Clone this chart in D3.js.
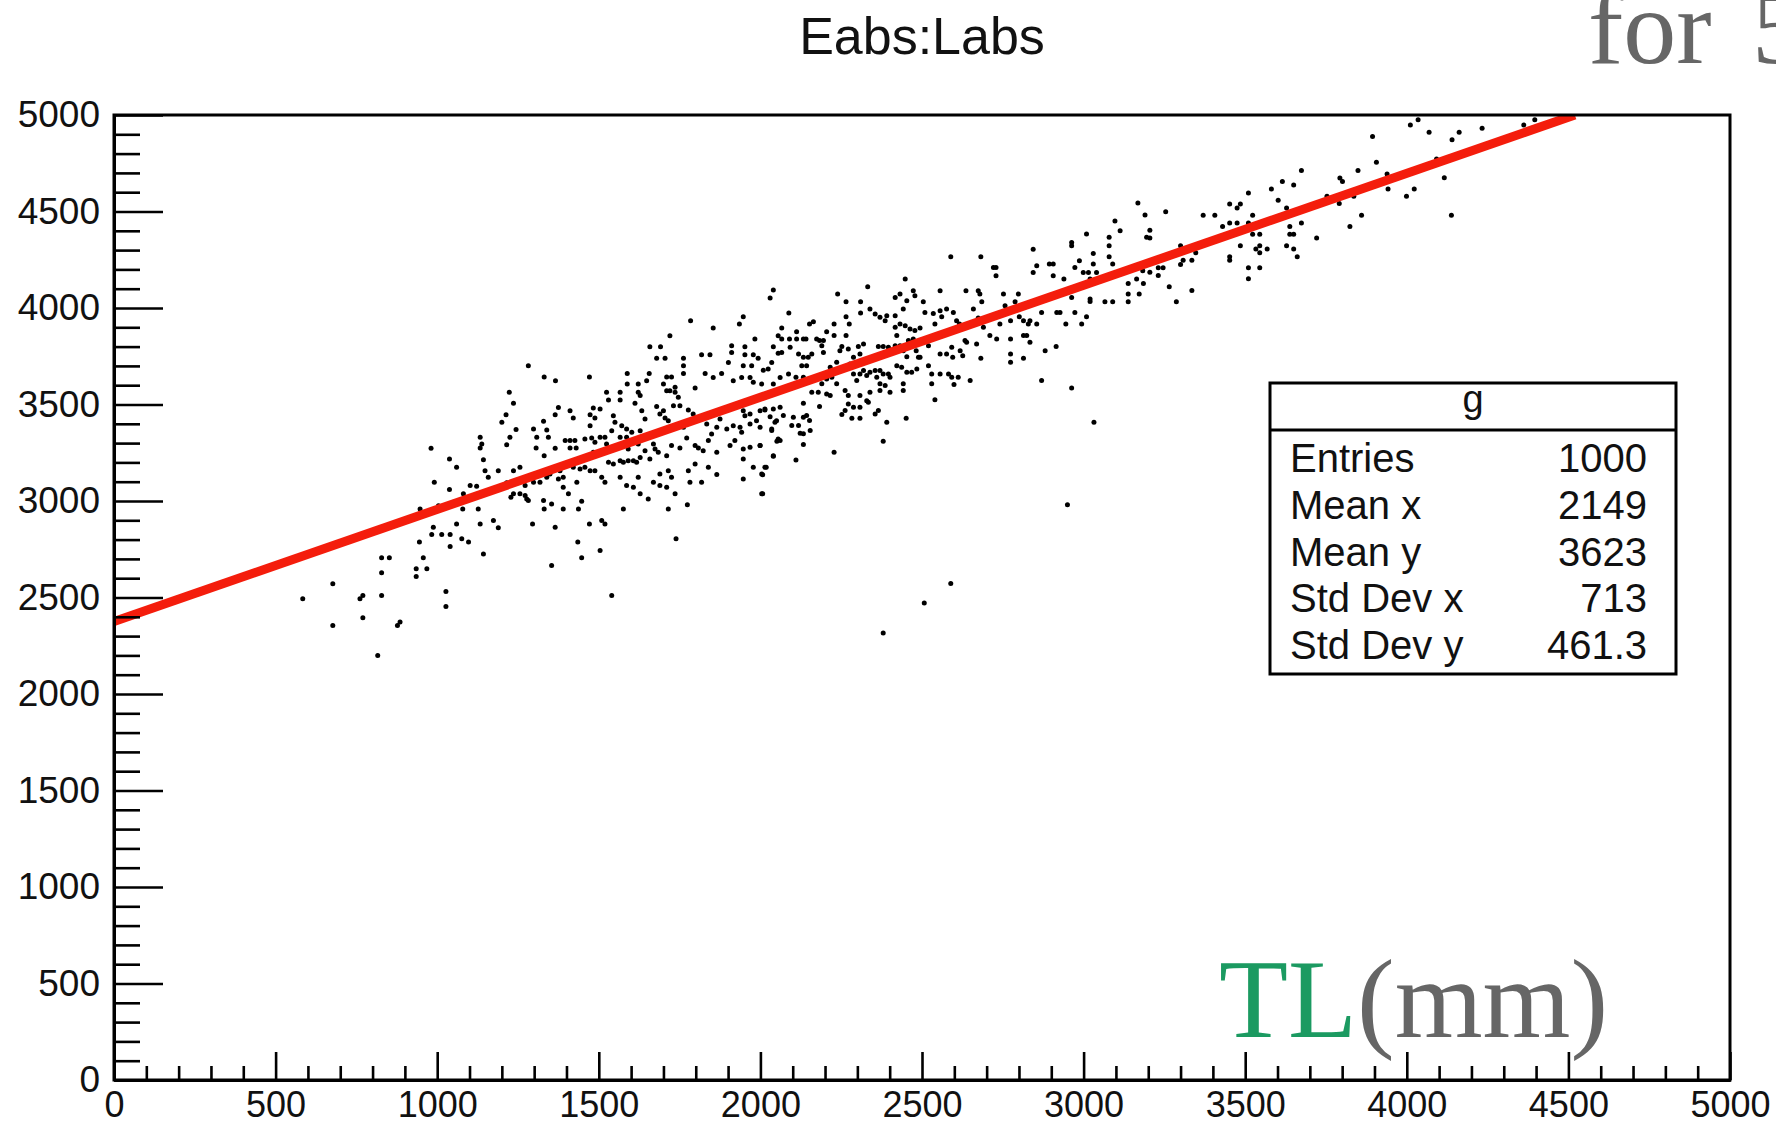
<!DOCTYPE html>
<html>
<head>
<meta charset="utf-8">
<script src="https://cdn.jsdelivr.net/npm/d3@7"></script>
<style>
  html, body { margin: 0; padding: 0; background: #fff; }
  svg { display: block; }
</style>
</head>
<body>
<svg id="chart" width="1776" height="1125"></svg>
<script>
// Each entry is [Labs, Eabs] in mm.
const entriesLow = [
  [1720,3856],[1658,3799],[1691,3799],[1679,3739],[1705,3739],[1762,3739],[1762,3701],[1762,3661],[1818,3758],[1844,3758],
  [1911,3804],[1911,3770],[1952,3799],[1983,3839],[2040,3799],[1952,3758],[1978,3758],[1901,3718],[1947,3701],[1973,3701],
  [1993,3740],[2035,3718],[2024,3684],[2009,3678],[2055,3856],[2055,3765],[1282,3701],[1331,3642],[1366,3623],[1471,3642],
  [1588,3661],[1656,3661],[1710,3642],[1725,3642],[1829,3661],[1854,3640],[1880,3661],[1916,3623],[1942,3640],[1968,3640],
  [1978,3615],[2004,3606],[2040,3606],[2061,3640],[1798,3585],[1700,3606],[1720,3571],[1736,3563],[1746,3537],[1751,3494],
  [1777,3471],[1731,3494],[1710,3571],[1736,3589],[1223,3563],[1236,3506],[1213,3447],[1200,3408],[1329,3413],[1298,3373],
  [1308,3330],[1339,3368],[1344,3330],[1375,3485],[1365,3447],[1411,3468],[1421,3430],[1473,3447],[1483,3482],[1504,3477],
  [1524,3563],[1566,3563],[1530,3523],[1566,3523],[1612,3506],[1622,3563],[1628,3546],[1588,3606],[1622,3606],[1648,3623],
  [1633,3468],[1643,3425],[1679,3489],[1700,3468],[1705,3430],[1715,3416],[1689,3451],[1545,3442],[1550,3408],[1571,3390],
  [1586,3373],[1602,3356],[1628,3364],[1648,3330],[1473,3390],[1488,3430],[1540,3364],[1762,3382],[1792,3451],[1834,3399],
  [1865,3382],[1849,3347],[1839,3313],[1875,3425],[1896,3373],[1916,3390],[1937,3382],[1942,3356],[1921,3313],[1906,3287],
  [1968,3399],[1988,3416],[1999,3468],[2014,3471],[2040,3477],[2030,3437],[2050,3416],[2035,3373],[2055,3321],[1947,3468],
  [1952,3442],[1968,3451],[981,3273],[1133,3330],[1138,3295],[1133,3275],[1225,3330],[1215,3292],[1244,3370],[1306,3275],
  [1331,3235],[1365,3273],[1396,3313],[1411,3313],[1426,3313],[1411,3275],[1430,3275],[1457,3321],[1478,3327],[1488,3304],
  [1504,3330],[1519,3330],[1524,3295],[1509,3261],[1483,3252],[1468,3226],[1566,3330],[1586,3330],[1607,3313],[1622,3295],
  [1591,3270],[1643,3261],[1669,3295],[1674,3270],[1684,3252],[1710,3235],[1725,3287],[1751,3275],[1772,3327],[1798,3287],
  [1808,3275],[1823,3261],[1865,3252],[1947,3270],[1968,3278],[1999,3287],[1947,3218],[2040,3235],[2061,3313],[1038,3218],
  [1060,3175],[991,3097],[1038,3059],[1081,3037],[1102,3080],[1122,3076],[1143,3214],[1148,3157],[1158,3123],[1189,3157],
  [1236,3157],[1256,3175],[1215,3094],[1236,3037],[1256,3037],[1277,3011],[1272,3080],[1298,3097],[1318,3097],[1339,3123],
  [1349,3140],[1380,3157],[1375,3114],[1390,3123],[1421,3175],[1442,3166],[1457,3175],[1473,3157],[1488,3157],[1509,3123],
  [1519,3097],[1530,3201],[1545,3192],[1566,3209],[1576,3201],[1591,3209],[1607,3209],[1617,3201],[1628,3226],[1658,3218],
  [1566,3123],[1586,3080],[1607,3071],[1622,3123],[1628,3037],[1653,3011],[1669,3097],[1689,3080],[1710,3071],[1689,3140],
  [1715,3157],[1725,3123],[1736,3037],[1777,3157],[1782,3097],[1818,3097],[1798,3192],[1839,3175],[1865,3137],[1947,3114],
  [1978,3175],[2004,3140],[2014,3175],[2004,3037],[1432,3097],[1406,3037],[1390,3071],[1079,2959],[1127,2959],[1050,2994],
  [1004,2976],[947,2959],[1060,2881],[988,2864],[983,2826],[1014,2826],[1040,2826],[1040,2764],[1076,2804],[1097,2787],
  [1133,2881],[1143,2726],[1174,2899],[1189,2861],[1228,3020],[1272,3028],[1282,3002],[1329,3002],[1331,2959],[1354,2985],
  [1390,2959],[1437,2959],[1447,2999],[1295,2881],[1365,2864],[1471,2881],[1509,2899],[1519,2881],[1435,2787],[1447,2706],
  [1504,2743],[1354,2666],[1540,2511],[1739,2804],[1774,2980],[1715,2959],[1576,2959],[945,2787],[957,2706],[935,2649],
  [968,2649],[935,2609],[828,2706],[852,2706],[828,2628],[677,2571],[584,2493],[761,2493],[770,2511],[828,2511],
  [677,2355],[770,2395],[877,2355],[885,2373],[816,2200],[1027,2531],[1027,2454],
  [1947,3955],[1935,3917],[1784,3934],[1854,3896]
];

const entriesMid = [
  [3009,4383],[2963,4340],[2963,4322],[3079,4366],[3079,4322],[3113,4400],[3195,4366],[2844,4305],[2589,4265],[2682,4265],
  [2721,4210],[2729,4210],[2729,4167],[2855,4219],[2844,4184],[2894,4228],[2906,4228],[2906,4167],[2939,4150],[2973,4210],
  [2987,4245],[2999,4184],[3015,4184],[3030,4283],[3030,4228],[3020,4150],[3040,4184],[3079,4265],[3090,4228],[3138,4127],
  [3164,4150],[3185,4127],[3183,4193],
  [2040,4093],[2030,4052],[2088,3974],[2239,4072],[2265,4033],[2310,4033],[2332,4110],[2310,3974],[2265,3955],[2275,3917],
  [2228,3917],[2205,3877],[2164,3929],[2152,3917],[2174,3839],[2141,3839],[2112,3877],[2112,3839],[2090,3839],[2066,3896],
  [2066,3839],[2133,3839],[2183,3831],[2195,3831],[2228,3857],[2265,3857],[2252,3800],[2272,3788],[2246,3779],[2288,3745],
  [2303,3800],[2319,3814],[2308,3762],[2339,3995],[2355,3969],[2370,3952],[2386,3934],[2391,3960],[2417,4055],[2432,4072],
  [2448,4150],[2473,4090],[2478,4064],[2504,4033],[2442,3995],[2453,4038],[2417,3960],[2432,3917],[2417,3900],[2422,3857],
  [2448,3908],[2463,3891],[2478,3883],[2494,3896],[2473,3839],[2458,3831],[2509,3977],[2535,3972],[2556,4090],[2556,3986],
  [2561,3955],[2540,3917],[2576,3995],[2597,3977],[2607,3934],[2616,3917],[2636,4090],[2659,3995],[2674,4090],[2679,4072],
  [2685,4033],[2674,3948],[2690,3900],[2741,3917],[2752,4072],[2757,4012],[2774,3934],[2788,4033],[2798,4072],[2801,3955],
  [2814,3934],[2834,3934],[2829,3917],[2855,3917],[2870,3977],[2917,3977],[2927,3977],[2945,3917],[2973,3977],[2963,4055],
  [2994,3917],[3009,3955],[3020,4046],[3020,4034],[3066,4033],[3090,4033],[3138,4072],[3138,4033],[3172,4072],
  [2365,3800],[2380,3800],[2396,3796],[2417,3805],[2432,3805],[2442,3779],[2453,3748],[2482,3779],[2489,3745],[2520,3805],
  [2556,3762],[2576,3762],[2595,3745],[2592,3796],[2618,3779],[2626,3753],[2633,3831],[2638,3822],[2669,3814],[2710,3857],
  [2731,3839],[2774,3839],[2814,3857],[2824,3857],[2834,3822],[2682,3739],[2774,3762],[2774,3719],[2814,3739],[2881,3779],
  [2915,3800],
  [2087,3658],[2110,3641],[2133,3641],[2128,3701],[2143,3701],[2148,3745],[2159,3762],[2133,3745],[2118,3762],[2092,3796],
  [2066,3770],[2190,3805],[2195,3770],[2216,3693],[2226,3676],[2236,3719],[2221,3641],[2205,3632],[2190,3607],[2236,3607],
  [2277,3710],[2288,3658],[2298,3624],[2308,3658],[2319,3676],[2329,3650],[2339,3667],[2355,3676],[2370,3676],[2380,3658],
  [2396,3658],[2401,3641],[2360,3641],[2370,3607],[2422,3701],[2437,3693],[2453,3667],[2468,3667],[2484,3684],[2520,3701],
  [2530,3658],[2556,3658],[2582,3658],[2592,3641],[2612,3641],[2649,3624],[2599,3603],[2530,3607],[2494,3745],
  [2159,3563],[2179,3563],[2205,3555],[2216,3546],[2262,3572],[2272,3546],[2308,3546],[2329,3520],[2339,3563],[2370,3572],
  [2386,3598],[2401,3563],[2442,3607],[2442,3572],[2540,3524],[2133,3507],[2183,3489],[2272,3503],[2288,3486],[2308,3486],
  [2334,3512],[2061,3486],[2071,3443],[2102,3434],[2097,3391],[2118,3391],[2133,3434],[2143,3443],[2152,3417],[2154,3365],
  [2123,3351],[2133,3348],[2252,3448],[2262,3469],[2283,3429],[2308,3429],[2355,3451],[2365,3469],[2391,3408],[2451,3429],
  [2133,3293],[2228,3253],[2110,3213],[2380,3310],[2870,3624],[2963,3586],[3032,3408],[2950,2980],[2589,2572],[2507,2471],
  [2380,2316],
  [2014,3477],[2035,3365],[2045,3408],[2051,3310],[1999,3382],[1999,3287],[2040,3232],[2018,3175],[2007,3136],[2007,3037]
];

const entriesHigh = [
  [3168,4544],[3190,4482],[3097,4451],
  [4035,4976],[4011,4948],[3894,4889],[4069,4910],[4140,4872],[4162,4910],[4233,4931],[4362,4948],[4396,4976],[3906,4755],
  [3849,4713],[3674,4713],[3793,4674],[3801,4656],[3939,4694],[4092,4772],[4116,4675],[3615,4656],[3650,4637],[3581,4617],
  [3510,4596],[3602,4558],[3452,4539],[3485,4539],[3475,4518],[3628,4518],[3753,4579],[3791,4541],[3836,4579],[3942,4617],
  [4023,4617],[3999,4579],[3860,4480],[4138,4480],[3824,4422],[3370,4480],[3406,4480],[3523,4480],[3452,4441],[3475,4441],
  [3510,4441],[3430,4422],[3674,4441],[3638,4422],[3523,4382],[3545,4382],[3638,4382],[3650,4382],[3721,4363],[3254,4499],
  [3205,4403],[3205,4363],[3300,4323],[3347,4286],[3335,4248],[3308,4248],[3300,4225],[3485,4323],[3533,4306],[3545,4323],
  [3545,4286],[3568,4306],[3628,4323],[3650,4306],[3661,4265],[3452,4265],[3452,4248],[3510,4208],[3545,4208],[3510,4151],
  [3231,4208],[3246,4208],[3205,4185],[3231,4168],[3265,4110],[3335,4091],[3287,4032]
];

// Straight-line fit drawn over the cloud (end points, clipped at the frame).
const fitLabs = [0, 4520];
const fitEabs = [2376, 5000];

const axisTicks = [0, 500, 1000, 1500, 2000, 2500, 3000, 3500, 4000, 4500, 5000];

const statsTitle = "g";
const statsNames = ["Entries", "Mean x", "Mean y", "Std Dev x", "Std Dev y"];
const statsValues = ["1000", "2149", "3623", "713", "461.3"];

const chartTitle = "Eabs:Labs";

// ---------------------------------------------------------------------------
const frame = { left: 114, right: 1730, top: 115, bottom: 1080 };
const sans = "'Liberation Sans', Arial, Helvetica, sans-serif";
const serif = "'Liberation Serif', 'Times New Roman', serif";

const svg = d3.select("#chart");
const x = d3.scaleLinear().domain([0, 5000]).range([frame.left, frame.right]);
const y = d3.scaleLinear().domain([0, 5000]).range([frame.bottom, frame.top]);

svg.append("rect").attr("width", 1776).attr("height", 1125).attr("fill", "#fff");

svg.append("defs").append("clipPath").attr("id", "plot-area")
  .append("rect")
  .attr("x", frame.left).attr("y", frame.top)
  .attr("width", frame.right - frame.left).attr("height", frame.bottom - frame.top);

// Scatter of the entries
const entries = entriesLow.concat(entriesMid, entriesHigh);
svg.append("g").attr("clip-path", "url(#plot-area)")
  .selectAll("circle").data(entries).join("circle")
  .attr("cx", d => x(d[0]))
  .attr("cy", d => y(d[1]))
  .attr("r", 2.5)
  .attr("fill", "#000");

// Fit line
svg.append("path")
  .datum(d3.zip(fitLabs, fitEabs))
  .attr("clip-path", "url(#plot-area)")
  .attr("d", d3.line().x(d => x(d[0])).y(d => y(d[1])))
  .attr("fill", "none")
  .attr("stroke", "#f41d0c")
  .attr("stroke-width", 9);

// Axes: major ticks labelled, minor ticks every 100
const minorTicks = x.ticks(50).filter(v => v % 500 !== 0);

function styleAxis(g, size) {
  g.select(".domain").attr("stroke", "#000").attr("stroke-width", 3);
  g.selectAll(".tick line").attr("stroke", "#000").attr("stroke-width", 2.6);
  g.selectAll(".tick text")
    .attr("fill", "#111")
    .style("font-family", sans)
    .style("font-size", size + "px");
}

svg.append("g")
  .attr("transform", `translate(0,${frame.bottom})`)
  .call(d3.axisBottom(x).tickValues(minorTicks).tickSize(-14).tickSizeOuter(0).tickFormat(""))
  .call(styleAxis, 36);
svg.append("g")
  .attr("transform", `translate(0,${frame.bottom})`)
  .call(d3.axisBottom(x).tickValues(axisTicks).tickSize(-28).tickSizeOuter(0).tickPadding(11).tickFormat(d3.format("d")))
  .call(styleAxis, 36);

svg.append("g")
  .attr("transform", `translate(${frame.left},0)`)
  .call(d3.axisLeft(y).tickValues(minorTicks).tickSize(-26).tickSizeOuter(0).tickFormat(""))
  .call(styleAxis, 37);
svg.append("g")
  .attr("transform", `translate(${frame.left},0)`)
  .call(d3.axisLeft(y).tickValues(axisTicks).tickSize(-49).tickSizeOuter(0).tickPadding(14).tickFormat(d3.format("d")))
  .call(styleAxis, 37);

// Frame
svg.append("rect")
  .attr("x", frame.left).attr("y", frame.top)
  .attr("width", frame.right - frame.left).attr("height", frame.bottom - frame.top)
  .attr("fill", "none").attr("stroke", "#000").attr("stroke-width", 3);

// Title
svg.append("text")
  .attr("x", (frame.left + frame.right) / 2).attr("y", 54)
  .attr("text-anchor", "middle")
  .style("font-family", sans).style("font-size", "52px")
  .attr("fill", "#111")
  .text(chartTitle);

// Statistics box
const box = { x: 1270, y: 383, w: 406, h: 291, head: 47 };
const stats = svg.append("g");
stats.append("rect")
  .attr("x", box.x).attr("y", box.y).attr("width", box.w).attr("height", box.h)
  .attr("fill", "#fff").attr("stroke", "#000").attr("stroke-width", 3);
stats.append("line")
  .attr("x1", box.x).attr("x2", box.x + box.w)
  .attr("y1", box.y + box.head).attr("y2", box.y + box.head)
  .attr("stroke", "#000").attr("stroke-width", 3);
stats.append("text")
  .attr("x", box.x + box.w / 2).attr("y", box.y + 29)
  .attr("text-anchor", "middle")
  .style("font-family", sans).style("font-size", "38px").attr("fill", "#111")
  .text(statsTitle);
const rowY = i => box.y + 89 + i * 46.8;
stats.selectAll("text.name").data(statsNames).join("text")
  .attr("class", "name")
  .attr("x", box.x + 20).attr("y", (d, i) => rowY(i))
  .style("font-family", sans).style("font-size", "40px").attr("fill", "#111")
  .text(d => d);
stats.selectAll("text.value").data(statsValues).join("text")
  .attr("class", "value")
  .attr("x", box.x + box.w - 29).attr("y", (d, i) => rowY(i))
  .attr("text-anchor", "end")
  .style("font-family", sans).style("font-size", "40px").attr("fill", "#111")
  .text(d => d);

// Axis caption inside the frame
const caption = svg.append("text")
  .attr("x", 1219).attr("y", 1037)
  .style("font-family", serif).style("font-size", "113px");
caption.append("tspan").attr("fill", "#1b9a61").text("TL");
caption.append("tspan").attr("fill", "#666").text("(mm)");

// Heading fragment at the top right edge
const heading = svg.append("text")
  .attr("x", 1588).attr("y", 63)
  .style("font-family", serif).style("font-size", "106px")
  .attr("fill", "#666");
heading.append("tspan").text("for");
heading.append("tspan").attr("x", 1752).text("5");
</script>
</body>
</html>
